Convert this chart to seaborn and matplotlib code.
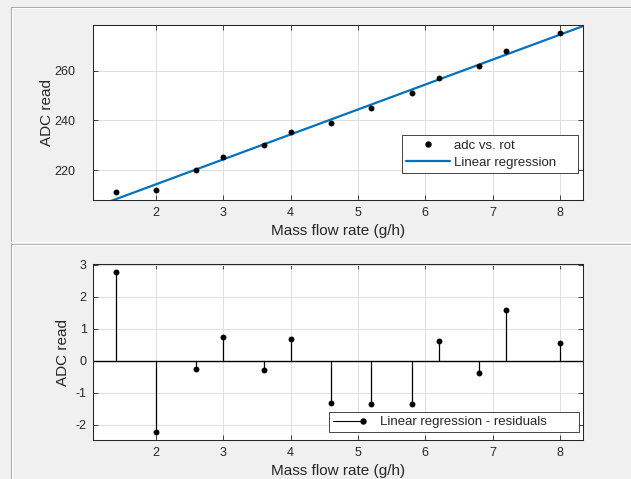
import numpy as np
import matplotlib
matplotlib.use("Agg")
import matplotlib.pyplot as plt
from matplotlib.lines import Line2D
from matplotlib.legend_handler import HandlerBase
import seaborn as sns

# Measurements: mass flow rate (g/h) against ADC reading
flow_rate = [1.4, 2.0, 2.6, 3.0, 3.6, 4.0, 4.6, 5.2, 5.8, 6.2, 6.8, 7.2, 8.0]
adc_read = [211.0, 212.0, 220.0, 225.2, 230.0, 235.2, 238.9, 245.1, 251.0,
            257.1, 262.1, 268.1, 275.2]
residuals = [2.77, -2.23, -0.25, 0.74, -0.28, 0.70, -1.31, -1.33, -1.35,
             0.63, -0.39, 1.59, 0.57]

x_ticks = [2, 3, 4, 5, 6, 7, 8]
adc_ticks = [220, 240, 260]
res_ticks = [-2, -1, 0, 1, 2, 3]

TEXT = "#262626"
BLUE = "#0072BD"
GRID = "#dedede"

sns.set_theme(style="white")
plt.rcParams["font.family"] = ["Liberation Sans", "DejaVu Sans"]
plt.rcParams["text.color"] = TEXT
plt.rcParams["axes.labelcolor"] = TEXT
plt.rcParams["axes.unicode_minus"] = False

W, H = 631, 479
fig = plt.figure(figsize=(W / 100, H / 100), dpi=100)
fig.patch.set_facecolor("#f0f0f0")


def px_axes(left, top, right, bottom):
    return fig.add_axes([left / W, 1 - bottom / H, (right - left) / W, (bottom - top) / H])


def style_axes(ax, ypad):
    ax.set_facecolor("white")
    for s in ax.spines.values():
        s.set_color(TEXT)
        s.set_linewidth(0.75)
        s.set_visible(True)
    ax.tick_params(axis="both", direction="in", length=3.6, width=0.6,
                   colors=TEXT, labelsize=9, top=True, right=True,
                   bottom=True, left=True)
    ax.tick_params(axis="x", pad=4.5)
    ax.tick_params(axis="y", pad=ypad)
    ax.grid(True, color=GRID, linewidth=0.7)
    ax.set_axisbelow(True)


# Panel frames of the window
for (xs, ys, c) in [
    ([10.5, 10.5], [6.5, H], "#a8a8a8"),
    ([11.5, 11.5], [7.5, H], "#ffffff"),
    ([10.5, W], [6.5, 6.5], "#a8a8a8"),
    ([11.5, W], [7.5, 7.5], "#ffffff"),
    ([10.5, W], [242.0, 242.0], "#ffffff"),
    ([10.5, W], [244.0, 244.0], "#b4b4b4"),
    ([11.5, W], [245.0, 245.0], "#ffffff"),
]:
    fig.add_artist(Line2D([v / W for v in xs], [1 - v / H for v in ys],
                          color=c, linewidth=0.8, transform=fig.transFigure))

AX_L, AX_R = 93.0, 583.3
AX_W = AX_R - AX_L

# ---- Top: data with linear fit ----
ax1 = px_axes(AX_L, 25.3, AX_R, 200.3)
style_axes(ax1, ypad=12.5)
ax1.set_xlim(1.064, 8.346)
ax1.set_ylim(207.8, 278.3)
sns.regplot(x=np.array(flow_rate), y=np.array(adc_read), ax=ax1, scatter=False,
            ci=None, truncate=False, label="Linear regression",
            line_kws=dict(color=BLUE, linewidth=1.6, zorder=2))
sns.scatterplot(x=flow_rate, y=adc_read, ax=ax1, color="black", s=18,
                linewidth=0, marker="o", zorder=3, legend=False)
ax1.set_xlim(1.064, 8.346)
ax1.set_ylim(207.8, 278.3)
ax1.set_xticks(x_ticks)
ax1.set_yticks(adc_ticks)
ax1.set_xlabel("Mass flow rate (g/h)", fontsize=11)
ax1.set_ylabel("ADC read", fontsize=11)
ax1.yaxis.set_label_coords((54 - AX_L) / AX_W, 0.5)
ax1.xaxis.set_label_coords(0.5, -(224.5 - 200.3) / 175.0)

h_pts = Line2D([], [], color="black", marker="o", markersize=3.6, linestyle="none")
h_fit = Line2D([], [], color=BLUE, linewidth=1.6)
leg1 = ax1.legend([h_pts, h_fit], ["adc vs. rot", "Linear regression     "],
                  loc="lower right", bbox_to_anchor=(0.99, 0.156),
                  borderaxespad=0, fontsize=9.5, handlelength=3.4,
                  handletextpad=0.28, labelspacing=0.4, borderpad=0.3,
                  fancybox=False, framealpha=1, numpoints=1)
leg1.get_frame().set_edgecolor(TEXT)
leg1.get_frame().set_linewidth(0.6)


# ---- Bottom: residuals as stems ----
class StemHandler(HandlerBase):
    def create_artists(self, legend, orig_handle, xdescent, ydescent,
                       width, height, fontsize, trans):
        y = height / 2 - ydescent
        x0, x1 = -xdescent, -xdescent + width
        line = Line2D([x0, x1], [y, y], color="black", linewidth=0.8)
        dot = Line2D([x1], [y], color="black", marker="o", markersize=3.6,
                     linestyle="none")
        line.set_transform(trans)
        dot.set_transform(trans)
        return [line, dot]


ax2 = px_axes(AX_L, 264.3, AX_R, 440.3)
style_axes(ax2, ypad=4.5)
ax2.set_xlim(1.064, 8.346)
ax2.set_ylim(-2.48, 3.02)
ax2.axhline(0, color="black", linewidth=1.0, zorder=2)
ax2.vlines(flow_rate, 0, residuals, color="black", linewidth=0.9, zorder=2)
sns.scatterplot(x=flow_rate, y=residuals, ax=ax2, color="black", s=18,
                linewidth=0, marker="o", zorder=3, legend=False)
ax2.set_xticks(x_ticks)
ax2.set_yticks(res_ticks)
ax2.set_xlabel("Mass flow rate (g/h)", fontsize=11)
ax2.set_ylabel("ADC read", fontsize=11)
ax2.yaxis.set_label_coords((70 - AX_L) / AX_W, 0.5)
ax2.xaxis.set_label_coords(0.5, -(464.0 - 440.3) / 176.0)

stem_handle = object()
leg2 = ax2.legend([stem_handle], ["Linear regression - residuals        "],
                  handler_map={stem_handle: StemHandler()},
                  loc="lower right", bbox_to_anchor=(0.992, 0.045),
                  borderaxespad=0, fontsize=9.5, handlelength=2.3,
                  handletextpad=1.25, borderpad=0.3, fancybox=False,
                  framealpha=1)
leg2.get_frame().set_edgecolor(TEXT)
leg2.get_frame().set_linewidth(0.6)

fig.savefig("out.png", dpi=100, facecolor=fig.get_facecolor())
